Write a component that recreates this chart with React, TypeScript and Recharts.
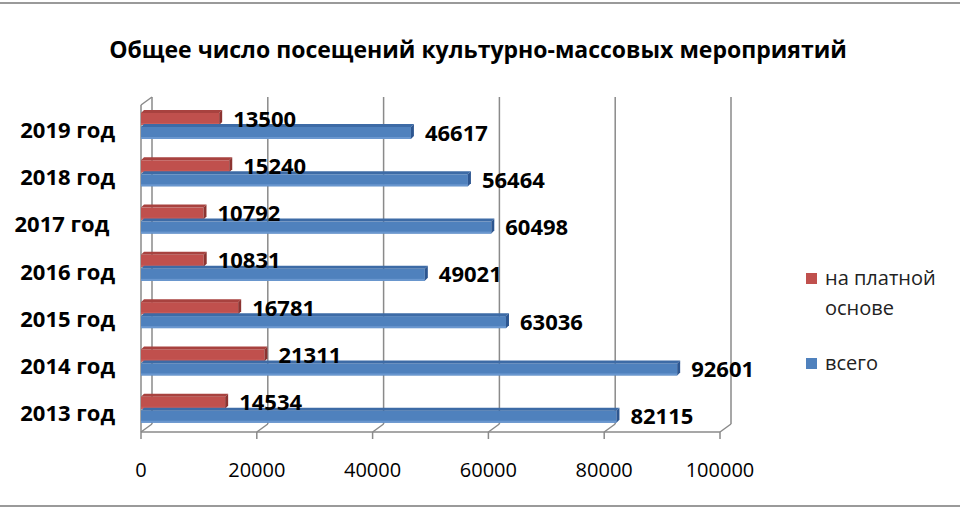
import React from "react";
import { Bar, BarChart, CartesianGrid, LabelList, Legend, XAxis, YAxis } from "recharts";

const years = ["2019 год", "2018 год", "2017 год ", "2016 год", "2015 год", "2014 год", "2013 год"];
const paid = [13500, 15240, 10792, 10831, 16781, 21311, 14534];
const total = [46617, 56464, 60498, 49021, 63036, 92601, 82115];
const xTicks = [0, 20000, 40000, 60000, 80000, 100000];
const seriesNames = ["на платной основе", "всего"];

const data = years.map((year, i) => ({ year, paid: paid[i], total: total[i] }));

const FONT = "'Open Sans', sans-serif";
const GRID = "#8a8a8a";
const RED = { face: "#c0504d", top: "#a8423f", side: "#8c3431", low: "#c95d5a" };
const BLUE = { face: "#4f81bd", top: "#3d6ba6", side: "#2d5690", low: "#6a97cf" };

function Box3D(props: any) {
  const { x, y, width, height, colors } = props;
  if (!width || width <= 0) return null;
  const d = 3;
  return (
    <g>
      <rect x={x} y={y + d} width={width} height={height - d} fill={colors.face} />
      <rect x={x} y={y + height - 2} width={width} height={2} fill={colors.low} />
      <polygon points={`${x},${y + d} ${x + d},${y} ${x + width + d},${y} ${x + width},${y + d}`} fill={colors.top} />
      <polygon
        points={`${x + width},${y + d} ${x + width + d},${y} ${x + width + d},${y + height - d} ${x + width},${y + height}`}
        fill={colors.side}
      />
    </g>
  );
}

// back wall gridline + floor diagonal for each tick
function WallLine(props: any) {
  const { x1, y1, y2, index } = props;
  const dx = 11;
  const dy = 8;
  return (
    <g key={`wall-${index}`} stroke={GRID} strokeWidth={1.5} fill="none">
      <line x1={x1 + dx} y1={y1 - 4} x2={x1 + dx} y2={y2 - dy} />
      <line x1={x1 + dx} y1={y2 - dy} x2={x1} y2={y2} />
      {index === 0 && (
        <>
          <line x1={x1} y1={y1 + 4} x2={x1} y2={y2} />
          <line x1={x1} y1={y1 + 4} x2={x1 + dx} y2={y1 - 4} />
        </>
      )}
    </g>
  );
}

function YearTick(props: any) {
  const { x, y, payload } = props;
  return (
    <text x={x - 26} y={y + 13} textAnchor="end" fontFamily={FONT} fontSize={22} fontWeight={700} fill="#000" style={{ whiteSpace: "pre" }}>
      {payload.value}
    </text>
  );
}

const labelStyle = { fontFamily: FONT, fontSize: 22, fontWeight: 700, fill: "#000" };

// both labels are drawn with the last series so they sit above the bars
function TotalLabel(props: any) {
  const { x, y, width, height, value } = props;
  return (
    <text x={x + width + 14} y={y + height / 2 + 9} {...labelStyle}>
      {value}
    </text>
  );
}

function PaidLabel(props: any) {
  const { x, y, width, height, index } = props;
  const row = data[index];
  const w = (width * row.paid) / row.total;
  return (
    <text x={x + w + 14} y={y - height / 2 + 10} {...labelStyle}>
      {row.paid}
    </text>
  );
}

function LegendBox(props: any) {
  const items = [...(props.payload || [])].sort(
    (a: any, b: any) => seriesNames.indexOf(a.value) - seriesNames.indexOf(b.value)
  );
  return (
    <div style={{ fontFamily: FONT, fontSize: 20, lineHeight: "30px", color: "#222" }}>
      {items.map((p: any, i: number) => (
        <div key={i} style={{ position: "relative", paddingLeft: 25, marginBottom: 25 }}>
          <span style={{ position: "absolute", left: 6, top: 10, width: 11, height: 11, background: p.color }} />
          {p.value}
        </div>
      ))}
    </div>
  );
}

export default function App() {
  return (
    <div style={{ position: "absolute", left: 0, top: 0, width: 960, height: 510, background: "#fff" }}>
      <div style={{ position: "absolute", left: 0, top: 2, width: 960, height: 2, background: "#9a9a9a" }} />
      <div style={{ position: "absolute", left: 0, top: 505, width: 960, height: 2, background: "#9a9a9a" }} />
      <div
        style={{
          position: "absolute",
          left: 0,
          top: 33,
          width: 956,
          textAlign: "center",
          fontFamily: FONT,
          fontSize: 23,
          fontWeight: 700,
          color: "#000",
        }}
      >
        Общее число посещений культурно-массовых мероприятий
      </div>
      <BarChart
        width={960}
        height={510}
        data={data}
        layout="vertical"
        barSize={15}
        barGap={-1}
        margin={{ top: 101, right: 240, bottom: 8, left: 0 }}
        style={{ position: "absolute", left: 0, top: 0 }}
      >
        <CartesianGrid horizontal={false} vertical={WallLine} />
        <XAxis
          type="number"
          domain={[0, 100000]}
          ticks={xTicks}
          interval={0}
          height={70}
          axisLine={{ stroke: GRID, strokeWidth: 1.5 }}
          tickLine={{ stroke: GRID, strokeWidth: 1.5 }}
          tickSize={7}
          tickMargin={24}
          tick={{ fill: "#000", fontSize: 20, fontFamily: FONT }}
        />
        <YAxis type="category" dataKey="year" width={141} tickSize={0} tickMargin={0} axisLine={false} tickLine={false} tick={YearTick} />
        <Legend
          layout="vertical"
          align="center"
          verticalAlign="middle"
          wrapperStyle={{ left: 800, top: 263, width: 150 }}
          content={LegendBox}
        />
        <Bar dataKey="paid" name={seriesNames[0]} fill={RED.face} isAnimationActive={false} shape={(p: any) => <Box3D {...p} colors={RED} />} />
        <Bar dataKey="total" name={seriesNames[1]} fill={BLUE.face} isAnimationActive={false} shape={(p: any) => <Box3D {...p} colors={BLUE} />}>
          <LabelList dataKey="total" content={TotalLabel} />
          <LabelList dataKey="paid" content={PaidLabel} />
        </Bar>
      </BarChart>
    </div>
  );
}
